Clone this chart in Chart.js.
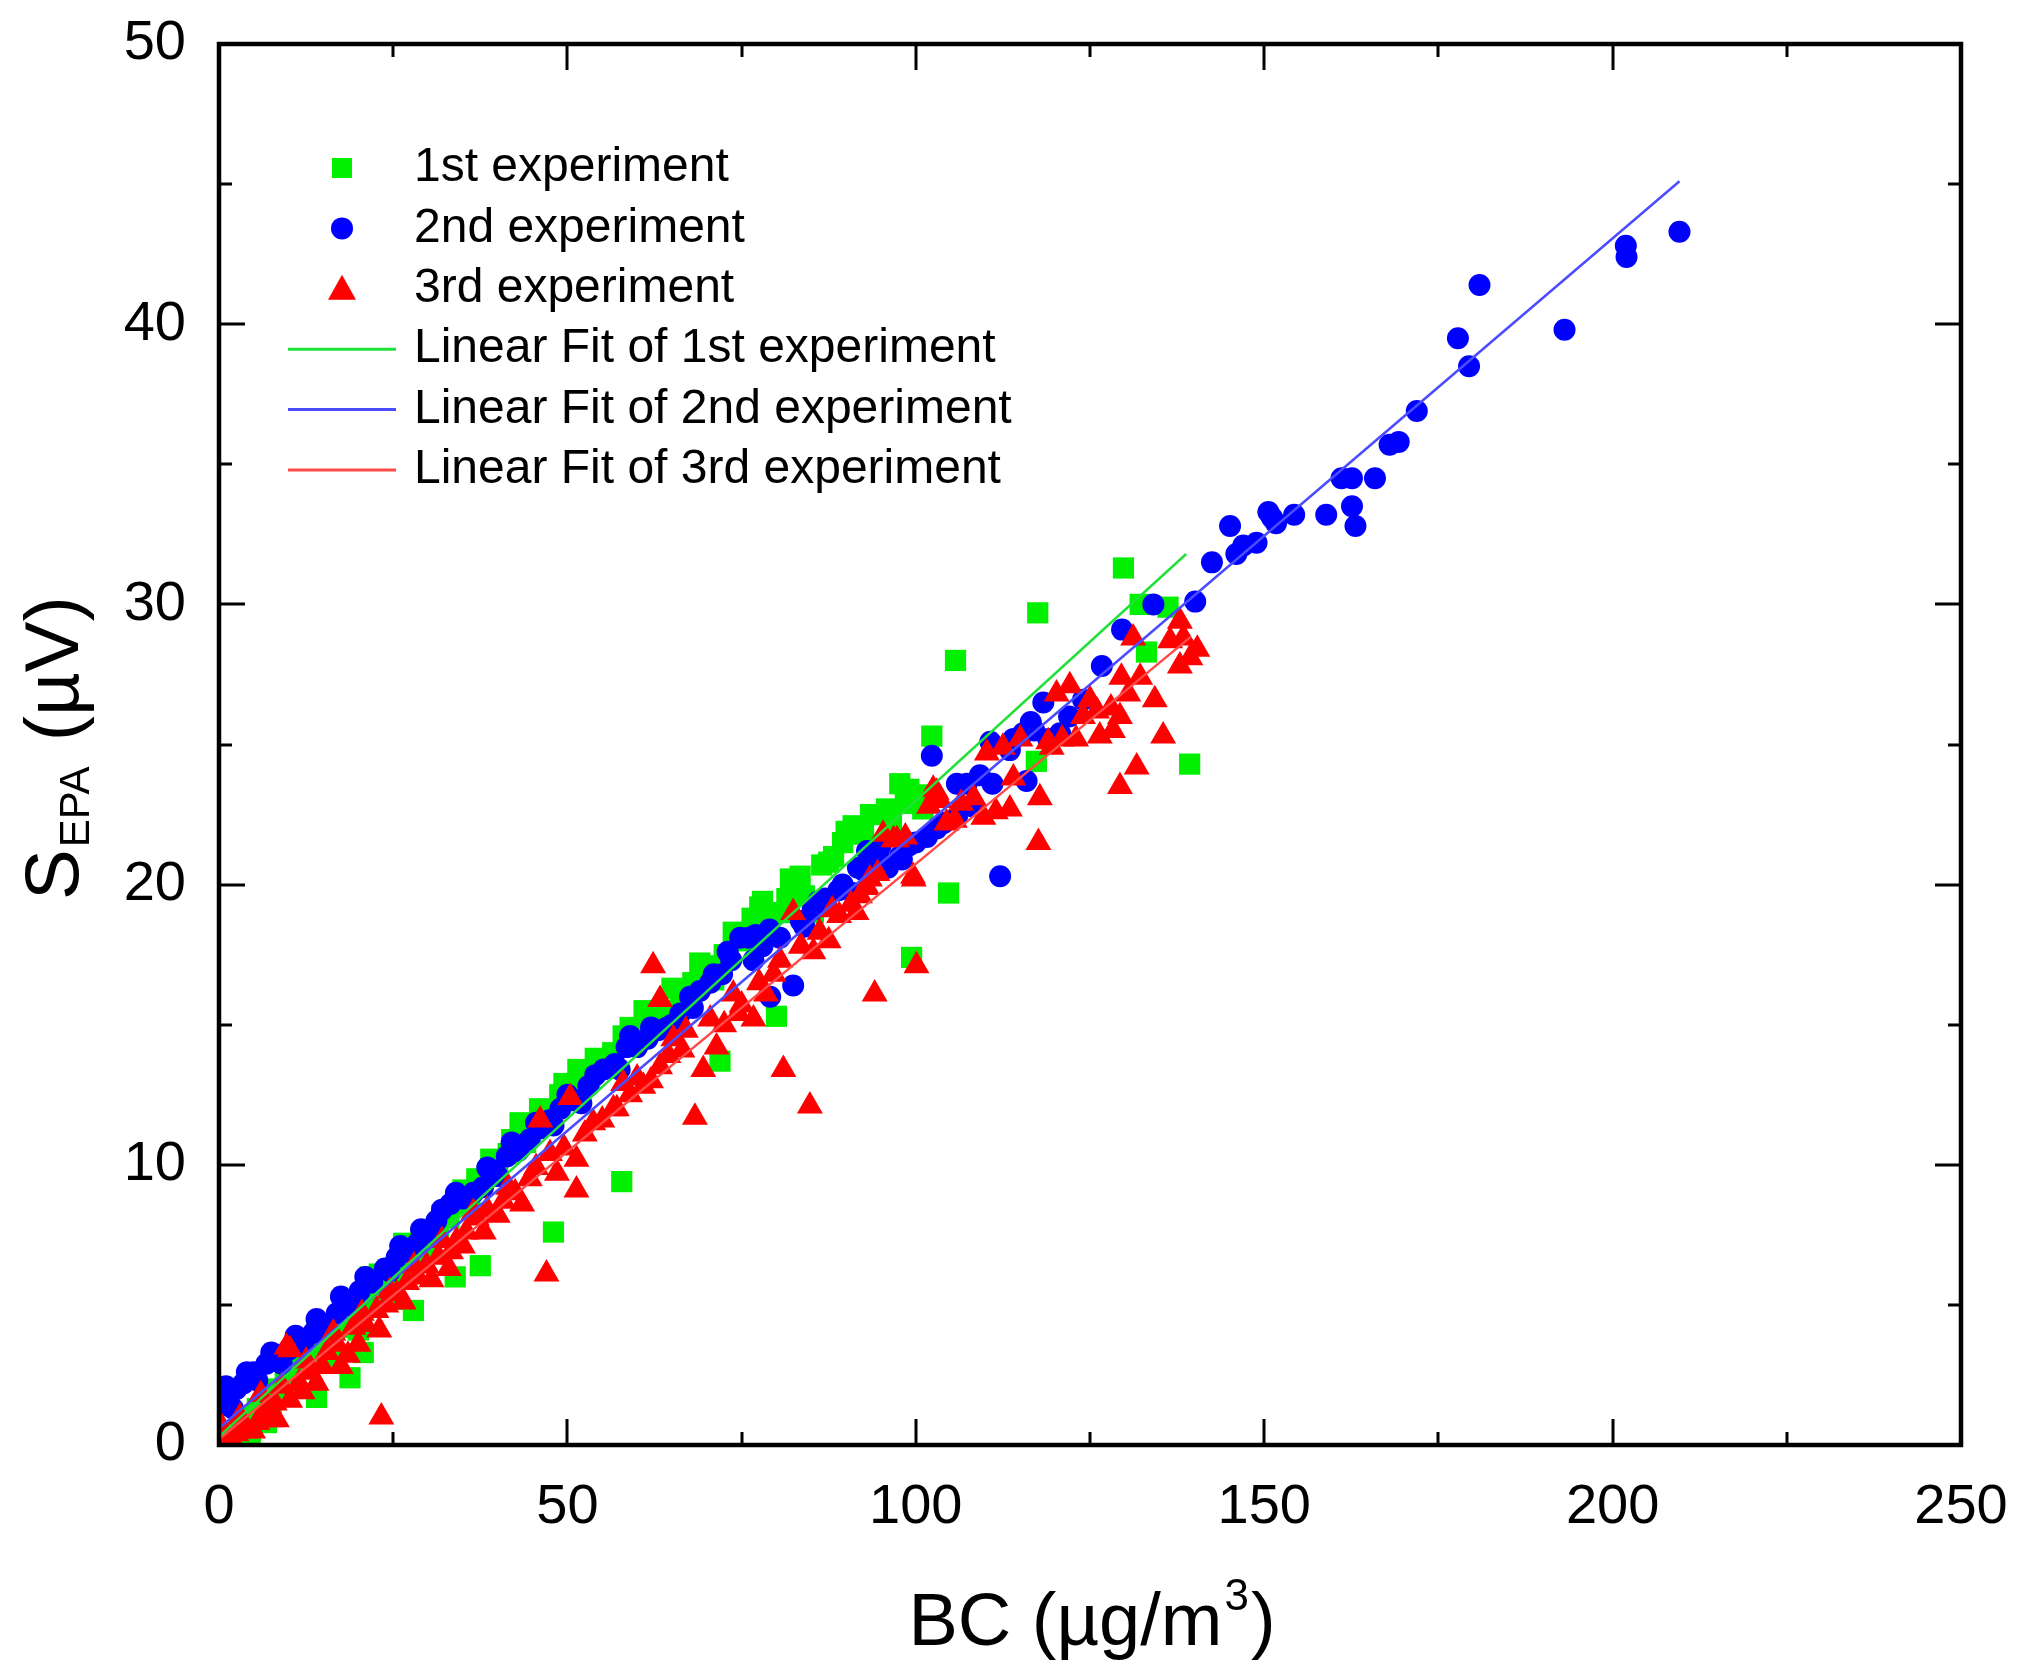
<!DOCTYPE html>
<html>
<head>
<meta charset="utf-8">
<script src="https://cdn.jsdelivr.net/npm/chart.js@4/dist/chart.umd.min.js"></script>
<style>
  html, body { margin: 0; padding: 0; background: #fff; }
  #wrap { width: 2023px; height: 1677px; position: relative; }
</style>
</head>
<body>
<div id="wrap"><canvas id="sepaChart"></canvas></div>
<script>
// 1st experiment (green squares)
const bc1 = [0.8, 2.0, 3.0, 4.2, 5.5, 6.8, 8.3, 9.5, 11, 12.5, 14, 14, 15.5, 17, 18.8, 19, 20.7, 21.7, 22.5, 24,
  25.5, 26.5, 27.9, 28.5, 30, 31.5, 33, 33.9, 34.5, 36, 37, 37.5, 38.5, 40, 41.5, 43.2, 44, 45.5, 47, 48,
  48.9, 50.5, 52, 53.2, 55, 56.5, 57.8, 59, 60.5, 62, 64, 66.2, 68, 70, 71.9, 72.5, 73.8, 75.5, 77.6, 79,
  80, 81.5, 83.4, 85.3, 86.5, 88.2, 89.5, 91, 92.5, 94.4, 95.8, 97.7, 98.5, 99.4, 100.2, 102.3, 104.7, 105.7, 117.3, 117.5,
  129.8, 132.2, 133.1, 136.2, 139.3,
  1.5, 4.5, 7.5, 10.5, 13, 16, 18, 20, 23, 25, 29, 32, 35, 39, 42, 46, 49.5, 51.5, 54, 58,
  61, 63, 65, 67, 69, 71, 74.5, 76.5, 78, 80.5, 82, 84, 87.5, 90, 93.5, 96.5, 99, 101];
const sepa1 = [0.2, 0.4, 0.6, 1.0, 1.3, 0.8, 2.0, 2.4, 2.8, 3.2, 1.7, 4.1, 3.6, 4.2, 2.4, 4.6, 3.3, 6.0, 5.2, 5.7,
  6.1, 7.2, 4.8, 6.6, 7.1, 7.5, 8.1, 6.0, 8.6, 8.9, 9.5, 6.4, 9.6, 10.0, 10.4, 11.5, 10.8, 11.3, 11.6, 7.6,
  12.5, 12.4, 12.8, 13.1, 13.5, 14.0, 9.4, 14.9, 14.5, 15.2, 15.5, 16.2, 16.5, 17.1, 13.7, 17.5, 18.3, 18.0, 19.2, 18.8,
  15.3, 19.5, 20.3, 19.0, 20.7, 21.0, 21.5, 22.1, 21.8, 21.4, 22.7, 23.6, 22.9, 17.4, 23.2, 25.3, 19.7, 28.0, 24.4, 29.7,
  31.3, 30.0, 28.3, 29.9, 24.3,
  0.1, 0.4, 1.5, 2.1, 3.6, 3.0, 4.8, 4.1, 6.1, 5.2, 7.4, 8.2, 9.1, 10.2, 10.9, 12.0, 12.9, 13.4, 13.8, 14.6,
  15.5, 15.0, 16.3, 16.0, 17.2, 16.6, 18.0, 18.8, 19.4, 19.0, 20.2, 19.6, 20.8, 21.9, 22.5, 22.2, 23.4, 22.7];

// 2nd experiment (blue circles)
const bc2 = [0.3, 0.6, 1.5, 2.5, 3.5, 5, 6.8, 8.5, 10, 12.1, 13.5, 15, 16.9, 18.5, 20.2, 22, 23.8, 25.5, 27, 28.5,
  30, 31.2, 33.2, 35, 36.5, 37.9, 39.5, 41.3, 43, 44.6, 46, 47.5, 49, 51, 53, 55.2, 56.8, 58.5, 60, 61.5,
  63, 64.3, 66.2, 67.6, 69, 70.5, 72.2, 73.5, 74.8, 76.7, 77, 79, 79.1, 80.5, 82.4, 83.5, 85.2, 87, 88.9, 91,
  91.7, 93, 94.9, 96, 97.7, 99, 101.6, 102.3, 104, 105.9, 105.9, 107.3, 109.2, 110.7, 112.1, 113.5, 115.4, 115.9, 117, 118.3,
  120.7, 126.7, 129.6, 134.1, 140.1, 142.5, 145.1, 146, 147, 148.9, 150.6, 151.1, 151.7, 154.3, 158.9, 161.1, 162.6, 162.6, 163.1, 165.9,
  168, 169.3, 171.9, 177.8, 179.4, 180.9, 193.1, 201.9, 202, 209.6,
  1, 2, 4, 5.5, 7.5, 9, 11, 14, 17.5, 19.5, 21, 24.5, 26, 29, 32, 34, 38.5, 40, 42, 45.5,
  48, 50, 52, 54, 57.5, 59, 62, 65, 68, 71, 73, 76, 78, 84, 86, 89.5, 92.5, 95, 98, 100,
  103, 108, 111, 114, 116.5, 119, 122, 124];
const sepa2 = [1.4, 1.6, 1.8, 2.0, 2.2, 2.6, 2.9, 3.2, 3.4, 3.6, 4.0, 4.3, 4.7, 5.0, 5.5, 5.8, 6.3, 6.7, 6.9, 7.2,
  7.6, 8.0, 8.6, 8.8, 9.0, 9.2, 9.8, 10.3, 10.5, 10.9, 11.3, 11.6, 12.0, 12.3, 12.8, 13.4, 13.6, 14.2, 14.2, 14.5,
  14.8, 14.9, 15.4, 16.0, 16.2, 16.5, 16.8, 17.3, 18.1, 17.3, 18.2, 18.4, 16.0, 18.1, 16.4, 18.7, 19.1, 19.5, 19.8, 19.7,
  20.6, 21.2, 20.9, 20.6, 21.0, 21.4, 21.7, 24.6, 22.2, 22.4, 23.6, 23.6, 23.9, 25.1, 20.3, 24.8, 25.4, 23.7, 25.5, 26.5,
  25.4, 27.8, 29.1, 30.0, 30.1, 31.5, 32.8, 31.8, 32.1, 32.2, 33.3, 33.1, 32.9, 33.2, 33.2, 34.5, 34.5, 33.5, 32.8, 34.5,
  35.7, 35.8, 36.9, 39.5, 38.5, 41.4, 39.8, 42.8, 42.4, 43.3,
  2.1, 1.3, 2.6, 2.3, 3.3, 2.9, 3.9, 4.5, 5.3, 5.0, 6.0, 6.2, 7.1, 7.7, 8.4, 9.0, 9.9, 9.6, 10.8, 11.5,
  11.4, 12.5, 12.2, 13.2, 13.4, 14.6, 14.9, 15.0, 15.6, 16.8, 17.6, 18.1, 17.8, 18.5, 19.4, 20.0, 20.5, 21.4, 20.9, 21.5,
  22.0, 22.8, 23.6, 25.2, 25.8, 25.2, 26.0, 26.6];

// 3rd experiment (red triangles)
const bc3 = [1.1, 2.5, 3.7, 4.9, 6.5, 7.4, 8.3, 9.7, 10.2, 10.2, 11.5, 13.1, 14.8, 16.4, 16.9, 18.5, 19.3, 21, 22.6, 23.3,
  24, 25.5, 27, 28.5, 29.8, 31.5, 33.3, 34.1, 35.5, 37, 38.5, 40.8, 42.5, 44.6, 46.1, 47, 48.5, 50.4, 51.3, 51.3,
  53.7, 56.6, 57.1, 59, 60.9, 62.3, 63.3, 63.3, 65.2, 66.5, 68.3, 69.5, 71.4, 72.5, 73.8, 75, 76.7, 77.5, 79.6, 81,
  82.4, 83.5, 84.8, 86.2, 87.5, 89, 90.7, 92, 93, 93.4, 94.1, 95.3, 96.8, 97.3, 99.6, 99.7, 100.1, 101.9, 102.5, 103,
  103.5, 104.4, 105.6, 108.3, 109.7, 110.2, 111.5, 112.5, 113.5, 115, 117.6, 117.8, 119, 120.2, 121, 122.1, 123, 124, 125, 126,
  126.4, 128, 128.3, 129.3, 129.3, 129.5, 130.5, 131.2, 131.7, 132.2, 134.3, 135.5, 136.5, 137.9, 137.9, 138.4, 139.4, 140.4,
  0.5, 2, 3, 5.5, 6, 8, 9, 12, 12.5, 14, 15.5, 17.5, 20, 20.5, 23, 24.5, 26.5, 28, 30.5, 32,
  33, 35, 36.5, 38, 40, 41.5, 43.5, 45.5, 47.5, 49.5, 52.5, 55, 58, 60, 62, 64.5, 67, 70.5, 74.5, 78.5,
  80.5, 85.3, 88, 91.5, 94.5, 98.5, 106.5, 114, 119.5];
const sepa3 = [0.2, 0.4, 0.5, 0.5, 1.2, 0.9, 0.9, 3.5, 1.6, 3.4, 2.2, 2.6, 2.8, 4.0, 3.6, 3.2, 4.2, 4.3, 4.8, 1.0,
  5.0, 5.4, 5.8, 6.0, 6.4, 6.7, 6.9, 7.3, 7.6, 8.1, 8.4, 8.7, 9.0, 9.5, 11.6, 6.1, 9.7, 12.4, 9.1, 10.2,
  11.5, 12.0, 12.0, 12.5, 12.8, 17.1, 15.9, 13.5, 14.5, 14.1, 11.7, 13.4, 14.2, 15.0, 16.1, 15.7, 15.2, 16.5, 16.8, 13.4,
  19.0, 17.8, 12.1, 18.3, 18.0, 18.9, 19.3, 19.6, 19.9, 20.2, 16.1, 21.8, 21.6, 21.6, 20.3, 20.2, 17.1, 22.8, 23.4, 23.3,
  23.0, 22.2, 22.3, 23.1, 22.4, 24.7, 22.6, 24.9, 22.7, 25.2, 21.5, 23.1, 25.1, 26.8, 25.2, 27.1, 25.2, 26.0, 26.6, 26.2,
  25.3, 26.3, 25.5, 26.0, 23.5, 27.4, 26.8, 28.8, 24.2, 27.4, 26.6, 25.3, 28.7, 29.4, 27.8, 28.8, 28.1, 28.4,
  0.6, 0.1, 1.0, 0.8, 1.8, 1.5, 2.1, 1.9, 3.0, 2.2, 3.3, 2.8, 3.6, 4.7, 4.1, 5.5, 5.1, 6.4, 5.9, 7.3,
  6.3, 7.1, 8.3, 7.6, 8.2, 9.2, 8.6, 9.9, 10.4, 10.6, 11.1, 11.6, 12.9, 13.1, 13.0, 13.9, 14.8, 15.2, 15.4, 16.1,
  17.3, 17.6, 19.1, 19.0, 20.4, 21.7, 22.9, 23.8, 24.9];

// linear fit end points
const fit1X = [0, 138.8], fit1Y = [0.3, 31.8];
const fit2X = [0, 209.6], fit2Y = [0.6, 45.1];
const fit3X = [0, 139.5], fit3Y = [0.2, 28.85];

const xTicks = [0, 50, 100, 150, 200, 250];
const yTicks = [0, 10, 20, 30, 40, 50];

const FONT = "'Liberation Sans', Arial, sans-serif";

function pts(xs, ys) {
    return xs.map((x, i) => ({ x: x, y: ys[i] }));
}

const datasets = [
    { label: "1st experiment", data: pts(bc1, sepa1), pointStyle: "rect", pointRadius: 15,
      backgroundColor: "#00f000", borderColor: "#00f000", borderWidth: 0, order: 3 },
    { label: "2nd experiment", data: pts(bc2, sepa2), pointStyle: "circle", pointRadius: 11,
      backgroundColor: "#0000ff", borderColor: "#0000ff", borderWidth: 0, order: 2 },
    { label: "3rd experiment", data: pts(bc3, sepa3), pointStyle: "triangle", pointRadius: 15,
      backgroundColor: "#ff0000", borderColor: "#ff0000", borderWidth: 0, order: 1 },
    { label: "Linear Fit of 1st experiment", data: pts(fit1X, fit1Y), showLine: true, pointRadius: 0,
      borderColor: "#22e03a", borderWidth: 2.5, order: 0 },
    { label: "Linear Fit of 2nd experiment", data: pts(fit2X, fit2Y), showLine: true, pointRadius: 0,
      borderColor: "#4b4bff", borderWidth: 2.5, order: 0 },
    { label: "Linear Fit of 3rd experiment", data: pts(fit3X, fit3Y), showLine: true, pointRadius: 0,
      borderColor: "#ff4a4a", borderWidth: 2.5, order: 0 }
];

// frame, inward ticks, axis titles and legend
const framePlugin = {
    id: "frame",
    afterDraw(chart) {
        const ctx = chart.ctx;
        const ca = chart.chartArea;
        const xs = chart.scales.x, ys = chart.scales.y;
        ctx.save();
        ctx.strokeStyle = "#000";
        ctx.lineWidth = 3;
        for (let v = 25; v < 250; v += 25) {
            const len = v % 50 === 0 ? 26 : 13;
            const px = Math.round(xs.getPixelForValue(v));
            ctx.beginPath();
            ctx.moveTo(px, ca.bottom); ctx.lineTo(px, ca.bottom - len);
            ctx.moveTo(px, ca.top); ctx.lineTo(px, ca.top + len);
            ctx.stroke();
        }
        for (let v = 5; v < 50; v += 5) {
            const len = v % 10 === 0 ? 26 : 13;
            const py = Math.round(ys.getPixelForValue(v));
            ctx.beginPath();
            ctx.moveTo(ca.left, py); ctx.lineTo(ca.left + len, py);
            ctx.moveTo(ca.right, py); ctx.lineTo(ca.right - len, py);
            ctx.stroke();
        }
        ctx.lineWidth = 4.5;
        ctx.strokeRect(ca.left, ca.top, ca.right - ca.left, ca.bottom - ca.top);

        // x title with superscript
        ctx.fillStyle = "#000";
        ctx.textBaseline = "alphabetic";
        ctx.textAlign = "left";
        const bigX = "74px " + FONT, supF = "44px " + FONT;
        ctx.font = bigX;
        const w1 = ctx.measureText("BC (\u00b5g/m").width;
        const w3 = ctx.measureText(")").width;
        ctx.font = supF;
        const w2 = ctx.measureText("3").width;
        let sx = (ca.left + ca.right) / 2 - (w1 + w2 + w3) / 2;
        ctx.font = bigX;
        ctx.fillText("BC (\u00b5g/m", sx, 1645);
        ctx.font = supF;
        ctx.fillText("3", sx + w1 + 2, 1610);
        ctx.font = bigX;
        ctx.fillText(")", sx + w1 + w2 + 4, 1645);

        // y title with subscript
        ctx.save();
        ctx.translate(78, 900);
        ctx.rotate(-Math.PI / 2);
        ctx.font = "76px " + FONT;
        ctx.fillText("S", 0, 0);
        let off = ctx.measureText("S").width + 2;
        ctx.font = "42px " + FONT;
        ctx.fillText("EPA", off, 11);
        off += ctx.measureText("EPA").width + 4;
        ctx.font = "76px " + FONT;
        ctx.fillText(" (\u00b5V)", off, 0);
        ctx.restore();

        // legend
        ctx.font = "48px " + FONT;
        ctx.textBaseline = "middle";
        chart.data.datasets.forEach((ds, i) => {
            const cy = 168 + i * 60.4;
            const mx = 342;
            ctx.fillStyle = ds.backgroundColor || ds.borderColor;
            if (ds.pointStyle === "rect") {
                ctx.fillRect(mx - 10, cy - 10, 20, 20);
            } else if (ds.pointStyle === "circle") {
                ctx.beginPath(); ctx.arc(mx, cy, 11, 0, Math.PI * 2); ctx.fill();
            } else if (ds.pointStyle === "triangle") {
                ctx.beginPath();
                ctx.moveTo(mx, cy - 14); ctx.lineTo(mx + 14, cy + 11); ctx.lineTo(mx - 14, cy + 11);
                ctx.closePath(); ctx.fill();
            } else {
                ctx.strokeStyle = ds.borderColor;
                ctx.lineWidth = 3;
                ctx.beginPath(); ctx.moveTo(288, cy); ctx.lineTo(396, cy); ctx.stroke();
            }
            ctx.fillStyle = "#000";
            ctx.fillText(ds.label, 414, cy);
        });
        ctx.restore();
    }
};

new Chart(document.getElementById("sepaChart").getContext("2d"), {
    type: "scatter",
    data: { datasets: datasets },
    options: {
        responsive: true,
        maintainAspectRatio: false,
        devicePixelRatio: 1,
        animation: false,
        events: [],
        layout: { padding: { top: 44, right: 62, left: 0, bottom: 0 } },
        plugins: { legend: { display: false }, tooltip: { enabled: false } },
        scales: {
            x: {
                type: "linear", min: 0, max: 250,
                afterFit: (s) => { s.height = 232; s.paddingLeft = 0; s.paddingRight = 0; },
                afterBuildTicks: (s) => { s.ticks = xTicks.map(v => ({ value: v })); },
                grid: { display: false, drawTicks: false },
                border: { display: false },
                ticks: { padding: 29, color: "#000", font: { family: FONT, size: 56 } }
            },
            y: {
                type: "linear", min: 0, max: 50,
                afterFit: (s) => { s.width = 219; s.paddingTop = 0; s.paddingBottom = 0; },
                afterBuildTicks: (s) => { s.ticks = yTicks.map(v => ({ value: v })); },
                grid: { display: false, drawTicks: false },
                border: { display: false },
                ticks: { padding: 33, color: "#000", font: { family: FONT, size: 56 } }
            }
        }
    },
    plugins: [framePlugin]
});
</script>
</body>
</html>
